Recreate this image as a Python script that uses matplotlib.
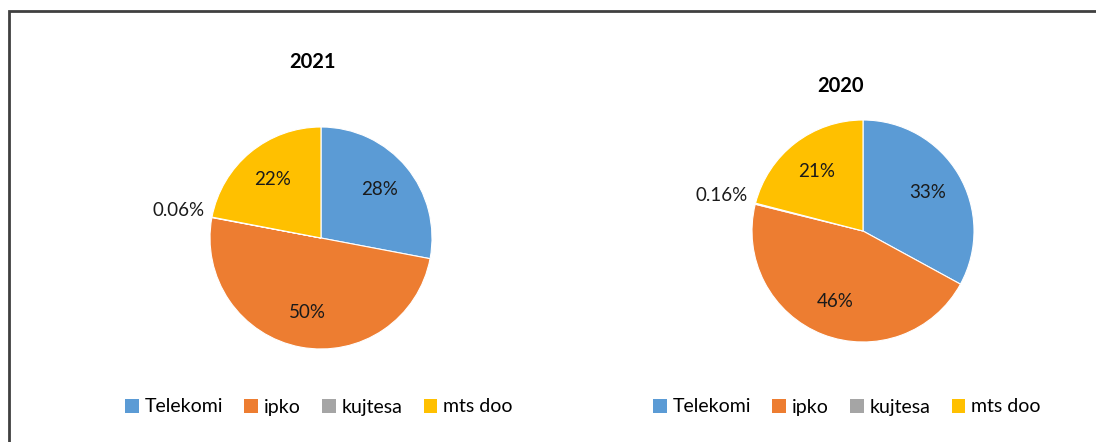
import numpy as np
import matplotlib.pyplot as plt
from matplotlib.patches import Patch, Rectangle

plt.rcParams["font.family"] = ["Lato", "DejaVu Sans"]

companies = ["Telekomi", "ipko", "kujtesa", "mts doo"]
colors = ["#5B9BD5", "#ED7D31", "#A5A5A5", "#FFC000"]

years = ["2021", "2020"]
shares_2021 = [28, 50, 0.06, 22]
shares_2020 = [33, 46, 0.16, 21]
labels_2021 = ["28%", "50%", "0.06%", "22%"]
labels_2020 = ["33%", "46%", "0.16%", "21%"]

W, H = 1096, 442
fig = plt.figure(figsize=(W / 100, H / 100), dpi=100)

# outer frame (right and bottom edges fall outside the picture)
fig.add_artist(Rectangle((8.5 / W, -0.2), 1.3, 1.2 - 10.5 / H,
                         transform=fig.transFigure, fill=False,
                         edgecolor="#404040", lw=2))


def draw_pie(cx, cy, r, values, labels, title, tx, ty, leg_x):
    ax = fig.add_axes([(cx - r) / W, 1 - (cy + r) / H, 2 * r / W, 2 * r / H])
    wedges, _ = ax.pie(values, colors=colors, startangle=90, counterclock=False,
                       wedgeprops=dict(edgecolor="white", linewidth=0.8))
    ax.set_xlim(-1, 1)
    ax.set_ylim(-1, 1)
    ax.set_aspect("equal")
    for w, lab, v in zip(wedges, labels, values):
        ang = np.deg2rad((w.theta1 + w.theta2) / 2)
        d = 1.31 if v < 1 else 0.68
        ax.text(d * np.cos(ang), d * np.sin(ang), lab, ha="center", va="center",
                fontsize=13.5, color="#1a1a1a")
    fig.text(tx / W, 1 - ty / H, title, ha="center", va="center",
             fontsize=14.5, fontweight="bold")
    handles = [Patch(facecolor=c, edgecolor="none") for c in colors]
    fig.legend(handles, companies, loc="center left", ncol=4, frameon=False,
               bbox_to_anchor=(leg_x / W, 1 - 407 / H), fontsize=14,
               handlelength=0.7, handleheight=0.7, handletextpad=0.3,
               columnspacing=1.1, borderaxespad=0, borderpad=0)


draw_pie(321, 238, 111, shares_2021, labels_2021, years[0], 312, 62, 125)
draw_pie(863, 231, 111, shares_2020, labels_2020, years[1], 841, 86, 653)

fig.savefig("out.png", dpi=100)
